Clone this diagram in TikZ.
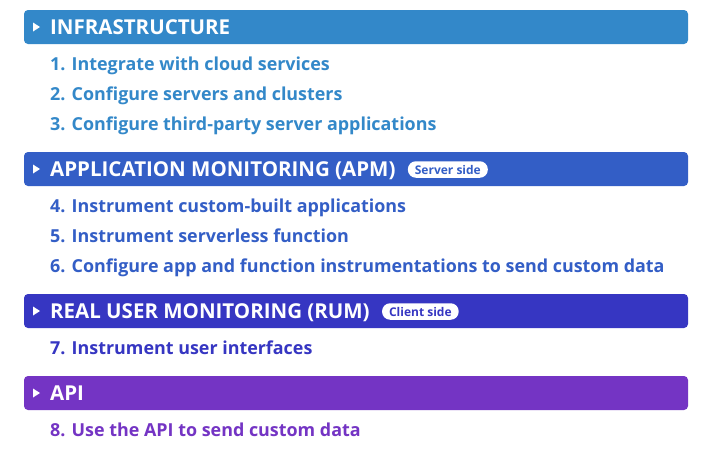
\documentclass[tikz,border=0pt]{standalone}
\usepackage{fontspec}
\setmainfont{Open Sans}
\definecolor{cA}{HTML}{3388C9}
\definecolor{cB}{HTML}{335EC6}
\definecolor{cC}{HTML}{3636C2}
\definecolor{cD}{HTML}{7434C4}
\begin{document}
\begin{tikzpicture}[x=1pt,y=-1pt,
  bar/.style={fill=#1, rounded corners=4pt, draw=none},
  head/.style={anchor=base west, text=white, font=\fontsize{20.5}{24}\selectfont\bfseries, inner sep=0pt},
  item/.style={anchor=base west, text=#1, font=\fontsize{17.9}{21}\selectfont\fontseries{sb}\selectfont, inner sep=0pt},
  pill/.style={fill=white, rounded corners=8pt, text=#1, font=\fontsize{12}{13}\selectfont\fontseries{sb}\selectfont, minimum height=16.5pt, inner xsep=7pt, inner ysep=0pt, anchor=west},
  tri/.style={fill=white, draw=none}]
\useasboundingbox (0,0) rectangle (712,456);
\fill[white] (0,0) rectangle (712,456);
% bars
\fill[bar=cA] (24,10) rectangle (688,44);
\fill[bar=cB] (24,152) rectangle (688,186);
\fill[bar=cC] (24,294) rectangle (688,328);
\fill[bar=cD] (24,376) rectangle (688,410);
% triangles
\foreach \y in {27,169,311,393}{\fill[tri] (33,\y-4.5) -- (40,\y) -- (33,\y+4.5) -- cycle;}
% headers
\node[head] (h1) at (50,34) {INFRASTRUCTURE};
\node[head] (h2) at (50,176) {APPLICATION MONITORING (APM)};
\node[head] (h3) at (50,318) {REAL USER MONITORING (RUM)};
\node[head] (h4) at (50,400) {API};
\node[pill=cB] (p2) at ([xshift=12pt]h2.east |- 0,169.5) {Server side};
\node[pill=cC] (p3) at ([xshift=12pt]h3.east |- 0,311.5) {Client side};
% items
\node[item=cA] (i1) at (50,70.5) {1. Integrate with cloud services};
\node[item=cA] (i2) at (50,100.5) {2. Configure servers and clusters};
\node[item=cA] (i3) at (50,130.5) {3. Configure third-party server applications};
\node[item=cB] (i4) at (50,212.5) {4. Instrument custom-built applications};
\node[item=cB] (i5) at (50,242.5) {5. Instrument serverless function};
\node[item=cB] (i6) at (50,272.5) {6. Configure app and function instrumentations to send custom data};
\node[item=cC] (i7) at (50,354.5) {7. Instrument user interfaces};
\node[item=cD] (i8) at (50,436.5) {8. Use the API to send custom data};
\end{tikzpicture}
\end{document}
